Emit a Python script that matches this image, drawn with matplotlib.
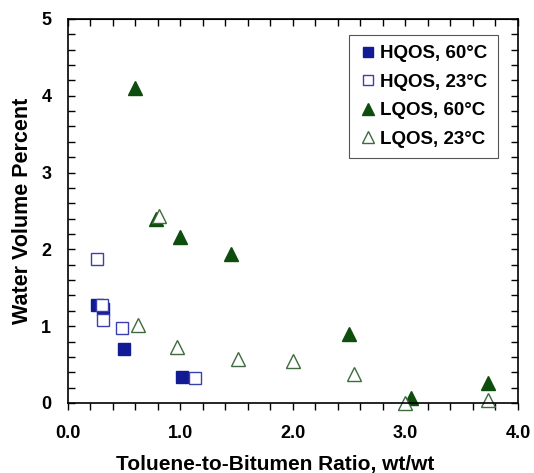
import matplotlib.pyplot as plt
from matplotlib.ticker import MultipleLocator, FuncFormatter

plt.rcParams['font.family'] = ['Liberation Sans', 'DejaVu Sans']
plt.rcParams['font.weight'] = 'bold'

# HQOS, 60C (filled squares)
hq60_x = [0.26, 0.31, 0.50, 1.01]
hq60_y = [1.28, 1.22, 0.70, 0.34]
# HQOS, 23C (open squares)
hq23_x = [0.26, 0.30, 0.31, 0.48, 1.13]
hq23_y = [1.87, 1.27, 1.08, 0.98, 0.33]
# LQOS, 60C (filled triangles)
lq60_x = [0.60, 0.78, 1.00, 1.45, 2.50, 3.05, 3.73]
lq60_y = [4.10, 2.40, 2.16, 1.94, 0.90, 0.06, 0.26]
# LQOS, 23C (open triangles)
lq23_x = [0.81, 0.62, 0.97, 1.51, 2.00, 2.54, 3.00, 3.73]
lq23_y = [2.43, 1.01, 0.73, 0.57, 0.55, 0.38, 0.00, 0.04]

navy = '#121b94'
green = '#0d4d0d'

fig = plt.figure(figsize=(5.34, 4.73), dpi=100)
ax = fig.add_axes([0.1273, 0.148, 0.8427, 0.812])

ax.plot(hq60_x, hq60_y, 's', color=navy, markersize=8, label='HQOS, 60°C', clip_on=False)
ax.plot(hq23_x, hq23_y, 's', markerfacecolor='white', markeredgecolor='#3a40b0',
        markeredgewidth=1.0, markersize=8, label='HQOS, 23°C', clip_on=False)
ax.plot(lq60_x, lq60_y, '^', color=green, markersize=10, label='LQOS, 60°C', clip_on=False)
ax.plot(lq23_x, lq23_y, '^', markerfacecolor='white', markeredgecolor='#3d6b3d',
        markeredgewidth=1.0, markersize=10, label='LQOS, 23°C', clip_on=False)

ax.set_xlim(0, 4)
ax.set_ylim(0, 5)
ax.xaxis.set_major_locator(MultipleLocator(1))
ax.xaxis.set_minor_locator(MultipleLocator(0.2))
ax.yaxis.set_major_locator(MultipleLocator(1))
ax.yaxis.set_minor_locator(MultipleLocator(0.2))
ax.xaxis.set_major_formatter(FuncFormatter(lambda v, p: f'{v:.1f}'))
ax.yaxis.set_major_formatter(FuncFormatter(lambda v, p: f'{v:.0f}'))

ax.tick_params(axis='both', which='both', length=5, width=1, labelsize=13)
ax.tick_params(axis='x', which='both', direction='out', top=False, pad=11)
ax.tick_params(axis='y', which='both', direction='in', right=True, pad=12)
for s in ax.spines.values():
    s.set_linewidth(1.2)

# top ticks point inward, bottom ones outward
top = ax.secondary_xaxis('top')
top.xaxis.set_major_locator(MultipleLocator(1))
top.xaxis.set_minor_locator(MultipleLocator(0.2))
top.tick_params(axis='x', which='both', direction='in', length=5, width=1, labeltop=False)

ax.set_xlabel('Toluene-to-Bitumen Ratio, wt/wt', fontsize=15, fontweight='bold', labelpad=9)
ax.xaxis.set_label_coords(0.46, -0.135)
ax.set_ylabel('Water Volume Percent', fontsize=15.5, fontweight='bold', labelpad=6)

leg = ax.legend(loc='upper right', bbox_to_anchor=(0.9556, 0.958), borderaxespad=0,
                fontsize=13.5, handletextpad=0.15, handlelength=1.0, borderpad=0.55,
                labelspacing=0.6, markerscale=0.9, fancybox=False,
                edgecolor='#555555', framealpha=1)
leg.get_frame().set_linewidth(0.8)

fig.savefig('out.png', dpi=100)
